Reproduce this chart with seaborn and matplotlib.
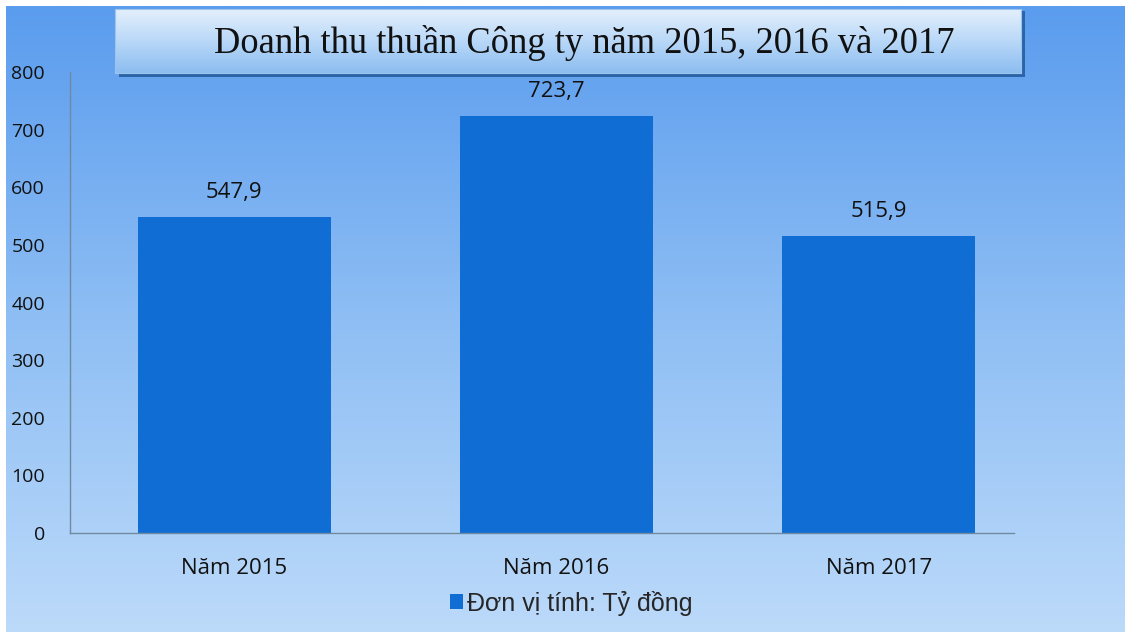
import numpy as np
import pandas as pd
import matplotlib.pyplot as plt
import matplotlib.colors as mcolors
import seaborn as sns

# du lieu
nam = ['Năm 2015', 'Năm 2016', 'Năm 2017']
doanh_thu = [547.9, 723.7, 515.9]
don_vi = 'Đơn vị tính: Tỷ đồng'
tieu_de = 'Doanh thu thuần Công ty năm 2015, 2016 và 2017'
y_ticks = [0, 100, 200, 300, 400, 500, 600, 700, 800]

df = pd.DataFrame({'nam': nam, 'doanh_thu': doanh_thu})

sns.set_style('white')
plt.rcParams['font.family'] = ['Open Sans', 'DejaVu Sans']

W, H = 1125, 632
fig = plt.figure(figsize=(W / 100, H / 100), dpi=100)
fig.patch.set_facecolor('white')

# nen gradient
bg = fig.add_axes([6 / W, 0, 1 - 6 / W, 1 - 6 / H], zorder=-2)
grad = mcolors.LinearSegmentedColormap.from_list('bg', ['#5a9cee', '#8ebef4', '#bcdafa'])
bg.imshow(np.linspace(0, 1, 256).reshape(-1, 1), aspect='auto', cmap=grad,
          extent=[0, 1, 0, 1])
bg.axis('off')

# khung tieu de
sh = fig.add_axes([119 / W, 1 - 77 / H, 906 / W, 66 / H], zorder=-1)
sh.set_facecolor('#2c64a8')
sh.set_xticks([]); sh.set_yticks([])
for s in sh.spines.values():
    s.set_visible(False)
tb = fig.add_axes([115 / W, 1 - 73 / H, 906 / W, 64 / H], zorder=0)
tgrad = mcolors.LinearSegmentedColormap.from_list('tb', ['#e4f0fc', '#b9d8f8', '#8cbdf0'])
tb.imshow(np.linspace(0, 1, 256).reshape(-1, 1), aspect='auto', cmap=tgrad,
          extent=[0, 1, 0, 1])
tb.set_xticks([]); tb.set_yticks([])
for s in tb.spines.values():
    s.set_color('#9cc4ec')
    s.set_linewidth(0.8)
tb.text(0.518, 0.47, tieu_de, ha='center', va='center', fontsize=26.3,
        family=['Liberation Serif', 'DejaVu Serif'], color='#111111',
        transform=tb.transAxes)

# bieu do cot
ax = fig.add_axes([70 / W, 1 - 533 / H, 944 / W, 461 / H], zorder=1)
ax.set_facecolor('none')
sns.barplot(data=df, x='nam', y='doanh_thu', color='#0f6dd4', saturation=1,
            width=0.6, linewidth=0, ax=ax, label=don_vi)
ax.set_xlim(-0.51, 2.42)
ax.set_ylim(0, 800)
ax.set_yticks(y_ticks)
ax.set_xlabel('')
ax.set_ylabel('')
ax.tick_params(axis='y', length=0, pad=18, labelsize=14, labelcolor='#111111')
ax.tick_params(axis='x', length=0, pad=18, labelsize=16, labelcolor='#111111')
for side in ['top', 'right']:
    ax.spines[side].set_visible(False)
for side in ['left', 'bottom']:
    ax.spines[side].set_color('#6f8aa0')
    ax.spines[side].set_linewidth(1.0)

ax.bar_label(ax.containers[0], labels=[f'{v:.1f}'.replace('.', ',') for v in doanh_thu],
             padding=10, fontsize=16, color='#111111')

ax.legend(loc='center', bbox_to_anchor=(571 / W, 1 - 603 / H),
          bbox_transform=fig.transFigure, frameon=False, handlelength=0.55,
          handleheight=0.55, handletextpad=0.15,
          prop={'family': ['Liberation Sans', 'DejaVu Sans'], 'size': 18})

fig.savefig('out.png', dpi=100)
